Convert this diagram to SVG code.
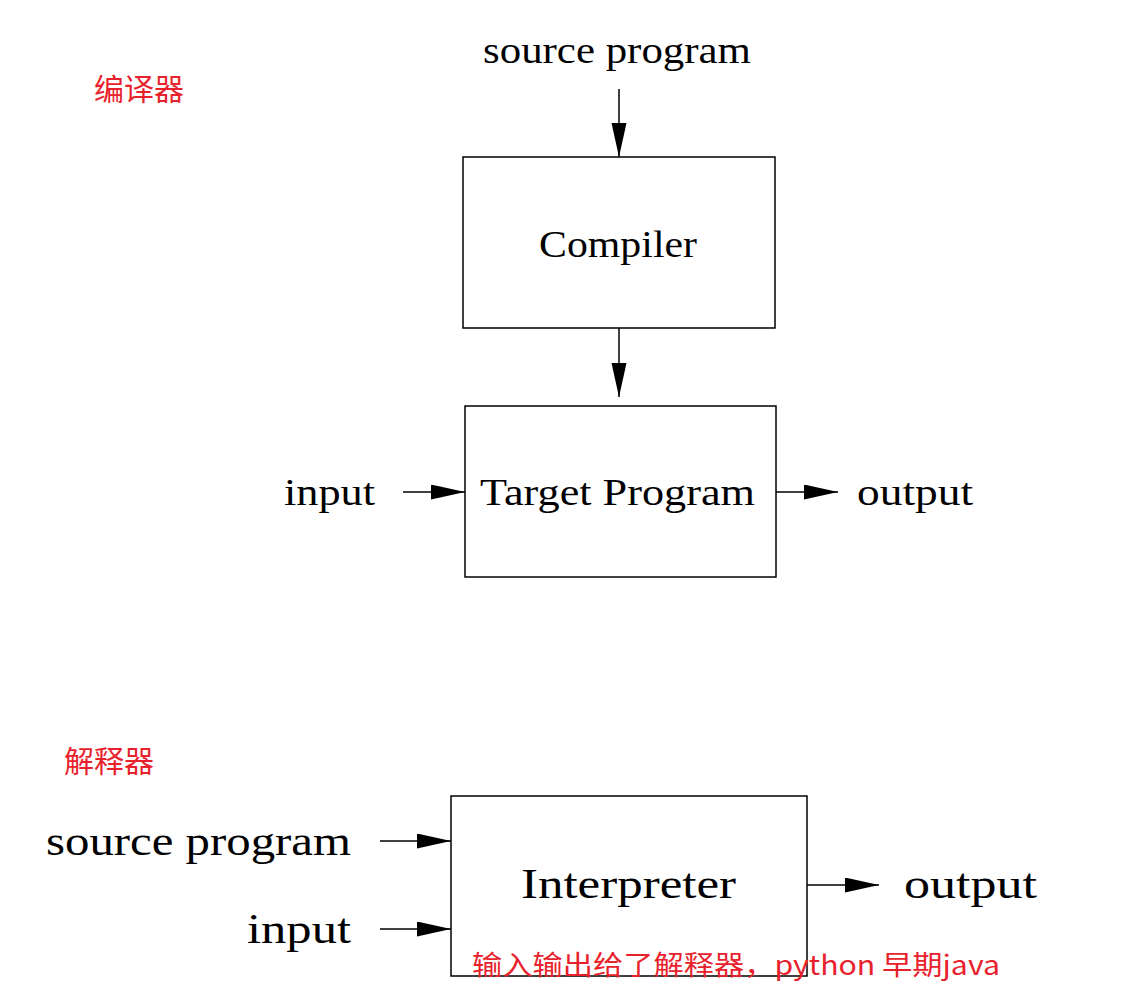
<svg xmlns="http://www.w3.org/2000/svg" width="1135" height="1008" viewBox="0 0 1135 1008">
<style>
.box{fill:#fff;stroke:#000;stroke-width:1.5}
.lbl{font-family:"Liberation Serif","DejaVu Serif",serif;fill:#000}
.red{font-family:"Noto Sans CJK SC","Noto Sans",sans-serif;fill:#e8222c}
.conn{stroke:#000;stroke-width:1.5;fill:none}
</style>
<defs>
<marker id="ah" markerUnits="userSpaceOnUse" markerWidth="36" markerHeight="16" refX="34" refY="7.5" orient="auto">
<path d="M0,0 L34,7.5 L0,15 Z" fill="#000"/>
</marker>
</defs>
<rect width="1135" height="1008" fill="#fff"/>
<text class="red" x="94" y="100" font-size="30">编译器</text>
<text class="red" x="64" y="772" font-size="30">解释器</text>
<text class="lbl" x="483" y="63" font-size="38" textLength="268" lengthAdjust="spacingAndGlyphs">source program</text>
<g id="compiler">
<rect class="box" x="463" y="157" width="312" height="171"/>
<text class="lbl" x="539" y="257" font-size="38" textLength="158" lengthAdjust="spacingAndGlyphs">Compiler</text>
</g>
<g id="target">
<rect class="box" x="465" y="406" width="311" height="171"/>
<text class="lbl" x="480" y="505" font-size="38" textLength="275" lengthAdjust="spacingAndGlyphs">Target Program</text>
</g>
<text class="lbl" x="284" y="505" font-size="38" textLength="91" lengthAdjust="spacingAndGlyphs">input</text>
<text class="lbl" x="857" y="505" font-size="38" textLength="116" lengthAdjust="spacingAndGlyphs">output</text>
<g id="interpreter">
<rect class="box" x="451" y="796" width="356" height="180"/>
<text class="lbl" x="521" y="898" font-size="42" textLength="215" lengthAdjust="spacingAndGlyphs">Interpreter</text>
</g>
<text class="lbl" x="46" y="855" font-size="42" textLength="305" lengthAdjust="spacingAndGlyphs">source program</text>
<text class="lbl" x="247" y="943" font-size="42" textLength="104" lengthAdjust="spacingAndGlyphs">input</text>
<text class="lbl" x="904" y="898" font-size="42" textLength="133" lengthAdjust="spacingAndGlyphs">output</text>
<g id="connectors">
<line class="conn" x1="619" y1="89" x2="619" y2="157" marker-end="url(#ah)"/>
<line class="conn" x1="619" y1="328" x2="619" y2="397" marker-end="url(#ah)"/>
<line class="conn" x1="403" y1="492" x2="465" y2="492" marker-end="url(#ah)"/>
<line class="conn" x1="776" y1="492" x2="838" y2="492" marker-end="url(#ah)"/>
<line class="conn" x1="380" y1="841" x2="451" y2="841" marker-end="url(#ah)"/>
<line class="conn" x1="380" y1="929" x2="451" y2="929" marker-end="url(#ah)"/>
<line class="conn" x1="807" y1="885" x2="879" y2="885" marker-end="url(#ah)"/>
</g>
<text class="red" x="472" y="975" font-size="27" textLength="528" lengthAdjust="spacingAndGlyphs">输入输出给了解释器，python 早期java</text>
</svg>
